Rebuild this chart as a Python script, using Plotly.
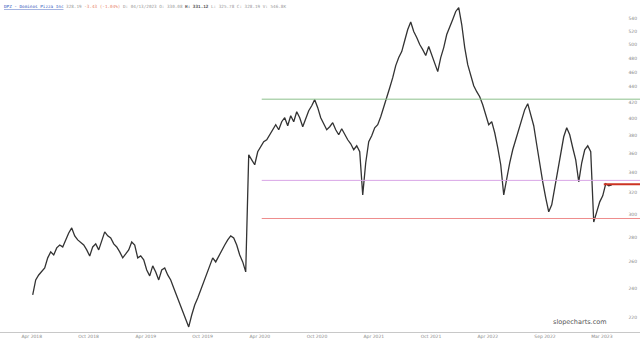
import pandas as pd
import plotly.graph_objects as go

# Weekly-ish closing prices (USD)
closes = [
    235.1, 246.0, 249.7, 252.0, 255.0, 262.9, 267.7, 265.2, 270.9, 273.3,
    271.7, 277.5, 283.4, 287.7, 280.9, 277.5, 275.0, 273.3, 269.3, 264.4,
    271.7, 274.2, 269.3, 277.5, 284.3, 280.9, 279.2, 274.2, 271.7, 267.7,
    262.9, 266.0, 269.3, 275.8, 273.3, 262.9, 264.4, 261.3, 253.5, 249.0,
    256.6, 252.0, 246.0, 253.5, 255.0, 249.7, 246.0, 240.1, 234.4, 228.1,
    222.7, 218.0, 213.5, 221.3, 228.1, 233.0, 238.7, 246.0, 252.0, 256.6,
    262.9, 259.7, 264.4, 269.3, 273.3, 277.5, 280.9, 279.2, 273.3, 265.2,
    259.7, 252.0, 358.6, 353.2, 348.0, 361.9, 367.4, 373.0, 375.2, 380.9,
    386.7, 392.6, 386.7, 396.2, 401.0, 391.4, 403.4, 396.2, 408.3, 401.0,
    390.2, 398.6, 409.5, 415.7, 423.4, 413.3, 401.0, 393.8, 386.7, 390.2,
    395.0, 386.7, 380.9, 387.9, 380.9, 375.2, 370.7, 364.1, 368.5, 361.9,
    317.8, 350.1, 373.0, 379.8, 389.0, 392.6, 402.2, 413.3, 425.9, 438.9,
    452.4, 469.1, 480.6, 489.3, 505.9, 523.0, 534.9, 519.9, 510.5, 499.8,
    492.3, 483.5, 496.8, 484.9, 473.3, 460.7, 480.6, 495.3, 515.1, 526.1,
    539.0, 552.2, 558.8, 530.9, 495.3, 470.5, 455.1, 441.6, 433.7, 427.2,
    417.0, 403.4, 392.6, 396.2, 383.2, 366.3, 348.0, 317.8, 334.6, 350.1,
    364.1, 375.2, 386.7, 401.0, 410.8, 418.3, 404.6, 391.4, 369.6, 348.0,
    330.6, 315.0, 302.0, 308.4, 324.6, 344.8, 361.9, 378.6, 389.0, 380.9,
    366.3, 353.2, 330.6, 350.1, 364.1, 368.5, 361.9, 292.9, 302.0, 311.2,
    316.9, 328.6, 326.6, 327.6,
]
start_date = "2018-04-18"
end_date = "2023-04-15"

tick_dates = ["2018-04-15", "2018-10-11", "2019-04-09", "2019-10-05", "2020-04-02",
              "2020-09-29", "2021-03-27", "2021-09-23", "2022-03-21", "2022-09-17",
              "2023-03-15"]
tick_labels = ["Apr 2018", "Oct 2018", "Apr 2019", "Oct 2019", "Apr 2020", "Oct 2020",
               "Apr 2021", "Oct 2021", "Apr 2022", "Sep 2022", "Mar 2023"]
y_ticks = [220, 240, 260, 280, 300, 320, 340, 360, 380, 400, 420, 440, 460, 480, 500, 520, 540]

levels = {"resistance": 424, "pivot": 332, "support": 296}
last_price = 328.19

dates = pd.date_range(start_date, end_date, periods=len(closes))

fig = go.Figure()
fig.add_trace(go.Scatter(x=dates, y=closes, mode="lines",
                         line=dict(color="#333333", width=1.3), hoverinfo="skip"))

x_end = "2023-07-13"
line_start = "2020-04-08"
fig.add_shape(type="line", x0=line_start, x1=x_end, y0=levels["resistance"], y1=levels["resistance"],
              xref="x", yref="y", line=dict(color="#8cc08c", width=1))
fig.add_shape(type="line", x0=line_start, x1=x_end, y0=levels["pivot"], y1=levels["pivot"],
              xref="x", yref="y", line=dict(color="#d9a6e6", width=1))
fig.add_shape(type="line", x0=line_start, x1=x_end, y0=levels["support"], y1=levels["support"],
              xref="x", yref="y", line=dict(color="#ee8c8c", width=1))
fig.add_shape(type="line", x0="2023-03-21", x1=x_end, y0=last_price, y1=last_price,
              xref="x", yref="y", line=dict(color="#cc3322", width=2))

header = ("<span style='color:#3355bb'><u>DPZ - Dominos Pizza Inc</u></span>"
          "<span style='color:#999999'> 328.19 </span>"
          "<span style='color:#e8866a'>-3.43 (-1.04%)</span>"
          "<span style='color:#999999'> D: 04/13/2023 O: 330.08 </span>"
          "<span style='color:#555555'><b>H: 331.12</b></span>"
          "<span style='color:#999999'> L: 325.78 C: 328.19 V: 546.8K</span>")
fig.add_annotation(text=header, xref="paper", yref="paper", x=0.003, y=0.995,
                   xanchor="left", yanchor="top", showarrow=False,
                   font=dict(family="DejaVu Sans Mono", size=4.3, color="#999999"))
fig.add_annotation(text="slopecharts.com", xref="paper", yref="paper", x=0.952, y=0.012,
                   xanchor="right", yanchor="bottom", showarrow=False,
                   font=dict(family="DejaVu Sans", size=6.5, color="#555555"))

fig.update_layout(
    width=640, height=343,
    margin=dict(l=0, r=0, t=0, b=11),
    paper_bgcolor="white", plot_bgcolor="white",
    showlegend=False,
    xaxis=dict(type="date", range=["2018-01-05", x_end], tickvals=tick_dates, ticktext=tick_labels,
               showgrid=False, zeroline=False, showline=True, linecolor="#c8c8c8", linewidth=1,
               ticks="", tickfont=dict(family="DejaVu Sans", size=4.5, color="#888888")),
    yaxis=dict(type="log", range=[2.3228, 2.7571], side="right", ticklabelposition="inside",
               tickvals=y_ticks, ticktext=[str(v) for v in y_ticks],
               showgrid=False, zeroline=False, showline=False, ticks="",
               tickfont=dict(family="DejaVu Sans", size=4.5, color="#888888")),
)

fig.write_html("out.html")
